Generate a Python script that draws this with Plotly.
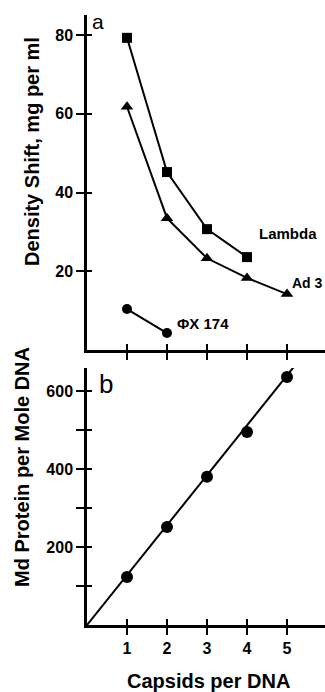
import plotly.graph_objects as go

# ---- data ----
capsid_ticks = [1, 2, 3, 4, 5]
lambda_x = [1, 2, 3, 4]
lambda_shift = [79.3, 45.2, 30.7, 23.6]
ad3_x = [1, 2, 3, 4, 5]
ad3_shift = [61.8, 33.5, 23.3, 18.3, 14.2]
phix_x = [1, 2]
phix_shift = [10.4, 4.3]
protein_x = [1, 2, 3, 4, 5]
protein_md = [123, 251, 380, 495, 636]
fit_x = [0, 5.25]
fit_md = [0, 672]
shift_ticks = [20, 40, 60, 80]
md_ticks = [100, 200, 300, 400, 500, 600]
md_ticktext = ["", "200", "", "400", "", "600"]

FONT = "Liberation Sans"
BLK = "black"

fig = go.Figure()

line = dict(color=BLK, width=2)
fig.add_trace(go.Scatter(x=lambda_x, y=lambda_shift, mode="lines+markers", line=line,
                         marker=dict(symbol="square", size=10, color=BLK), xaxis="x", yaxis="y"))
fig.add_trace(go.Scatter(x=ad3_x, y=ad3_shift, mode="lines+markers", line=line,
                         marker=dict(symbol="triangle-up", size=11, color=BLK), xaxis="x", yaxis="y"))
fig.add_trace(go.Scatter(x=phix_x, y=phix_shift, mode="lines+markers", line=line,
                         marker=dict(symbol="circle", size=10, color=BLK), xaxis="x", yaxis="y"))
fig.add_trace(go.Scatter(x=fit_x, y=fit_md, mode="lines", line=line, xaxis="x2", yaxis="y2"))
fig.add_trace(go.Scatter(x=protein_x, y=protein_md, mode="markers",
                         marker=dict(symbol="circle", size=12, color=BLK), xaxis="x2", yaxis="y2"))

xdom = [87 / 325, 1]
ydom_a = [(692 - 350) / 692, (692 - 15) / 692]
ydom_b = [(692 - 625) / 692, (692 - 368) / 692]
xr = [0, 5.95]
yr_a = [0, 85.1]
yr_b = [0, 659]

tickfont = dict(family=FONT, size=16, color=BLK, weight="bold")
ax_common = dict(showgrid=False, zeroline=False, showline=True, linecolor=BLK, linewidth=2.5,
                 tickcolor=BLK, tickwidth=2, tickfont=tickfont)

fig.update_layout(
    width=325, height=692,
    margin=dict(l=0, r=0, t=0, b=0),
    paper_bgcolor="white", plot_bgcolor="white",
    showlegend=False,
    xaxis=dict(domain=xdom, range=xr, anchor="y", tickvals=capsid_ticks, ticks="outside",
               ticklen=7, showticklabels=False, **ax_common),
    yaxis=dict(domain=ydom_a, range=yr_a, anchor="x", tickvals=shift_ticks, ticks="outside",
               ticklen=8, **ax_common),
    xaxis2=dict(domain=xdom, range=xr, anchor="y2", tickvals=capsid_ticks, ticks="outside",
                ticklen=7, **ax_common),
    yaxis2=dict(domain=ydom_b, range=yr_b, anchor="x2", tickvals=md_ticks, ticktext=md_ticktext,
                ticks="outside", ticklen=8, **ax_common),
    # inside halves of the crossing ticks
    xaxis3=dict(domain=xdom, range=xr, anchor="y", overlaying="x", tickvals=capsid_ticks,
                ticks="inside", ticklen=6, showticklabels=False, **ax_common),
    yaxis3=dict(domain=ydom_a, range=yr_a, anchor="x", overlaying="y", tickvals=shift_ticks,
                ticks="inside", ticklen=5, showticklabels=False, **ax_common),
    xaxis4=dict(domain=xdom, range=xr, anchor="y2", overlaying="x2", tickvals=capsid_ticks,
                ticks="inside", ticklen=6, showticklabels=False, **ax_common),
    yaxis4=dict(domain=ydom_b, range=yr_b, anchor="x2", overlaying="y2", tickvals=md_ticks,
                ticks="inside", ticklen=5, showticklabels=False, **ax_common),
)

# invisible traces so the overlay axes are drawn
fig.add_trace(go.Scatter(x=[0], y=[0], mode="markers", marker=dict(opacity=0), xaxis="x3", yaxis="y3",
                         hoverinfo="skip"))
fig.add_trace(go.Scatter(x=[0], y=[0], mode="markers", marker=dict(opacity=0), xaxis="x4", yaxis="y4",
                         hoverinfo="skip"))

lab = dict(family=FONT, size=15, color=BLK, weight="bold")
fig.add_annotation(x=4.25, y=29.5, xref="x", yref="y", text="Lambda", showarrow=False,
                   xanchor="left", yanchor="middle", font=lab)
fig.add_annotation(x=5.08, y=17.0, xref="x", yref="y", text="Ad 3", showarrow=False,
                   xanchor="left", yanchor="middle", font=dict(family=FONT, size=14, color=BLK, weight="bold"))
fig.add_annotation(x=2.2, y=6.8, xref="x", yref="y", text="ΦX 174", showarrow=False,
                   xanchor="left", yanchor="middle", font=lab)
fig.add_annotation(x=0.08, y=83.5, xref="x", yref="y", text="a", showarrow=False,
                   xanchor="left", yanchor="middle", font=dict(family=FONT, size=21, color=BLK))
fig.add_annotation(x=0.25, y=618, xref="x2", yref="y2", text="b", showarrow=False,
                   xanchor="left", yanchor="middle", font=dict(family=FONT, size=26, color=BLK))

title_font = dict(family=FONT, size=20, color=BLK, weight="bold")
fig.add_annotation(x=32 / 325, y=(692 - 152) / 692, xref="paper", yref="paper",
                   text="Density Shift, mg per ml", textangle=-90, showarrow=False,
                   xanchor="center", yanchor="middle", font=title_font)
fig.add_annotation(x=22 / 325, y=(692 - 467) / 692, xref="paper", yref="paper",
                   text="Md Protein per Mole DNA", textangle=-90, showarrow=False,
                   xanchor="center", yanchor="middle", font=title_font)
fig.add_annotation(x=208 / 325, y=(692 - 681) / 692, xref="paper", yref="paper",
                   text="Capsids per DNA", showarrow=False,
                   xanchor="center", yanchor="middle", font=title_font)

fig.write_html("out.html", config={"displayModeBar": False},
               post_script="document.body.style.margin='0';")
